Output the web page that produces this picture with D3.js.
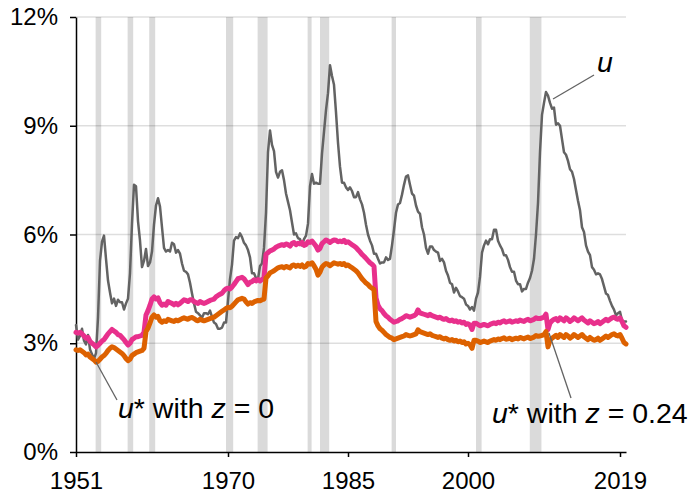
<!DOCTYPE html>
<html>
<head>
<meta charset="utf-8">
<script src="https://cdn.jsdelivr.net/npm/d3@7"></script>
<style>
  html, body { margin: 0; padding: 0; background: #fff; }
  svg { display: block; font-family: "Liberation Sans", Arial, Helvetica, sans-serif; }
</style>
</head>
<body>
<svg id="chart" width="694" height="493"></svg>
<script>
// Quarterly series, 1951Q1 - 2019Q4 (one row per year, four quarters each)
const startYear = 1951;

// Unemployment rate u (%)
const uRate = [
  3.50,3.10,3.20,3.40, 3.07,2.97,3.23,2.83, 2.70,2.57,2.73,3.70, 5.27,5.80,5.97,5.33,
  4.73,4.40,4.10,4.23, 4.03,4.20,4.13,4.13, 3.93,4.10,4.23,4.93, 6.30,7.37,7.33,6.37,
  5.83,5.10,5.27,5.60, 5.13,5.23,5.53,6.27, 6.80,7.00,6.77,6.20, 5.63,5.53,5.57,5.53,
  5.77,5.73,5.50,5.57, 5.47,5.20,5.00,4.97, 4.90,4.67,4.37,4.10, 3.87,3.83,3.77,3.70,
  3.83,3.83,3.80,3.90, 3.73,3.57,3.53,3.40, 3.40,3.43,3.57,3.57, 4.17,4.77,5.17,5.83,
  5.93,5.90,6.03,5.93, 5.77,5.70,5.57,5.37, 4.93,4.93,4.80,4.77, 5.13,5.20,5.63,6.60,
  8.27,8.87,8.47,8.30, 7.73,7.57,7.73,7.77, 7.50,7.13,6.90,6.67, 6.33,6.00,6.03,5.90,
  5.87,5.70,5.87,5.97, 6.30,7.33,7.67,7.40, 7.43,7.40,7.40,8.23, 8.83,9.43,9.90,10.67,
  10.37,10.13,9.37,8.53, 7.87,7.43,7.43,7.30, 7.23,7.30,7.20,7.03, 7.03,7.17,6.97,6.83,
  6.60,6.27,6.00,5.83, 5.70,5.47,5.47,5.33, 5.20,5.23,5.23,5.37, 5.30,5.33,5.70,6.13,
  6.60,6.83,6.87,7.10, 7.37,7.60,7.63,7.37, 7.13,7.07,6.80,6.63, 6.57,6.20,6.00,5.63,
  5.47,5.67,5.67,5.57, 5.53,5.50,5.27,5.33, 5.23,5.00,4.87,4.67, 4.63,4.40,4.53,4.43,
  4.30,4.27,4.23,4.07, 4.03,3.93,4.00,3.90, 4.23,4.40,4.83,5.50, 5.70,5.83,5.73,5.87,
  5.87,6.13,6.13,5.83, 5.70,5.60,5.43,5.43, 5.30,5.10,4.97,4.97, 4.73,4.63,4.63,4.43,
  4.50,4.50,4.67,4.80, 5.00,5.33,6.00,6.87, 8.27,9.30,9.63,9.93, 9.83,9.63,9.47,9.50,
  9.03,9.07,9.00,8.63, 8.27,8.20,8.03,7.80, 7.73,7.53,7.23,6.93, 6.67,6.20,6.07,5.70,
  5.53,5.43,5.10,5.03, 4.90,4.93,4.90,4.77, 4.57,4.37,4.33,4.17, 4.03,3.93,3.77,3.83,
  3.87,3.63,3.60,3.60
];

// u* with z = 0 (%)
const uStarZ0 = [
  3.30,3.28,3.30,3.26, 3.20,3.14,3.16,3.05, 3.00,2.96,2.90,2.94, 3.00,3.06,3.10,3.18,
  3.26,3.32,3.38,3.34, 3.30,3.24,3.22,3.16, 3.10,3.02,2.95,3.00, 3.10,3.14,3.18,3.18,
  3.20,3.22,3.30,3.78, 3.90,4.05,4.22,4.28, 4.22,4.25,4.12,4.05, 4.08,4.05,4.15,4.12,
  4.10,4.06,4.10,4.06, 4.10,4.15,4.20,4.18, 4.15,4.20,4.20,4.15, 4.12,4.10,4.15,4.12,
  4.10,4.12,4.15,4.18, 4.20,4.22,4.28,4.32, 4.35,4.38,4.45,4.50, 4.52,4.50,4.55,4.62,
  4.70,4.78,4.80,4.82, 4.78,4.70,4.62,4.68, 4.70,4.75,4.72,4.76, 4.72,4.76,4.80,5.45,
  5.50,5.55,5.57,5.60, 5.65,5.68,5.70,5.72, 5.70,5.74,5.72,5.68, 5.75,5.78,5.72,5.76,
  5.74,5.78,5.70,5.72, 5.80,5.78,5.82,5.75, 5.68,5.57,5.62,5.75, 5.80,5.85,5.82,5.78,
  5.82,5.85,5.84,5.80, 5.82,5.80,5.84,5.78, 5.80,5.76,5.72,5.68, 5.64,5.58,5.52,5.45,
  5.40,5.34,5.28,5.22, 5.18,5.12,4.25,4.05, 3.95,3.90,3.82,3.76, 3.72,3.66,3.62,3.58,
  3.60,3.62,3.66,3.68, 3.72,3.76,3.74,3.72, 3.74,3.76,3.80,3.92, 3.84,3.82,3.80,3.78,
  3.76,3.80,3.76,3.74, 3.72,3.70,3.72,3.68, 3.66,3.68,3.64,3.62, 3.64,3.60,3.62,3.58,
  3.60,3.56,3.58,3.52, 3.54,3.50,3.38,3.55, 3.55,3.52,3.48,3.50, 3.52,3.50,3.48,3.52,
  3.54,3.56,3.54,3.58, 3.56,3.60,3.62,3.58, 3.60,3.62,3.58,3.60, 3.62,3.60,3.64,3.62,
  3.60,3.64,3.66,3.62, 3.64,3.66,3.70,3.68, 3.68,3.70,3.72,3.80, 3.38,3.56,3.62,3.66,
  3.68,3.62,3.70,3.66, 3.62,3.70,3.66,3.60, 3.64,3.70,3.66,3.62, 3.66,3.70,3.64,3.60,
  3.56,3.62,3.58,3.54, 3.56,3.60,3.54,3.58, 3.62,3.66,3.62,3.66, 3.70,3.72,3.68,3.66,
  3.70,3.60,3.48,3.44
];

// u* with z = 0.24 (%)
const uStarZ24 = [
  2.82,2.80,2.82,2.78, 2.74,2.68,2.70,2.62, 2.58,2.54,2.48,2.50, 2.56,2.62,2.66,2.72,
  2.80,2.86,2.90,2.88, 2.84,2.80,2.76,2.72, 2.66,2.58,2.52,2.56, 2.66,2.70,2.74,2.76,
  2.78,2.80,2.86,3.32, 3.42,3.56,3.72,3.78, 3.72,3.74,3.62,3.58, 3.62,3.60,3.66,3.64,
  3.62,3.60,3.64,3.62, 3.65,3.68,3.70,3.68, 3.66,3.70,3.71,3.68, 3.64,3.62,3.66,3.64,
  3.62,3.64,3.66,3.68, 3.70,3.72,3.76,3.80, 3.84,3.88,3.92,3.96, 3.99,3.98,4.02,4.08,
  4.14,4.20,4.22,4.24, 4.22,4.14,4.08,4.12, 4.10,4.14,4.16,4.18, 4.17,4.20,4.22,4.80,
  4.86,4.94,4.97,5.00, 5.04,5.08,5.10,5.11, 5.08,5.12,5.10,5.08, 5.14,5.16,5.12,5.15,
  5.12,5.16,5.10,5.12, 5.20,5.18,5.22,5.14, 5.04,4.88,4.96,5.10, 5.16,5.20,5.18,5.14,
  5.18,5.22,5.20,5.18, 5.20,5.17,5.20,5.14, 5.16,5.12,5.08,5.04, 5.00,4.94,4.86,4.78,
  4.72,4.66,4.62,4.56, 4.52,4.48,3.60,3.48, 3.40,3.36,3.30,3.24, 3.20,3.16,3.14,3.10,
  3.12,3.14,3.16,3.18, 3.20,3.24,3.22,3.20, 3.22,3.24,3.26,3.37, 3.32,3.30,3.28,3.26,
  3.24,3.26,3.22,3.20, 3.18,3.16,3.18,3.14, 3.12,3.14,3.10,3.08, 3.10,3.06,3.08,3.04,
  3.06,3.02,3.04,2.98, 3.00,2.96,2.86,3.08, 3.08,3.06,3.02,3.04, 3.06,3.04,3.02,3.06,
  3.08,3.10,3.08,3.12, 3.10,3.13,3.15,3.11, 3.12,3.14,3.10,3.12, 3.14,3.12,3.16,3.14,
  3.12,3.15,3.17,3.13, 3.15,3.17,3.21,3.19, 3.20,3.22,3.24,3.32, 2.90,3.08,3.14,3.18,
  3.22,3.16,3.24,3.20, 3.16,3.24,3.20,3.14, 3.18,3.24,3.20,3.16, 3.20,3.24,3.18,3.14,
  3.10,3.16,3.12,3.08, 3.10,3.14,3.08,3.12, 3.16,3.20,3.16,3.20, 3.24,3.26,3.22,3.20,
  3.24,3.14,3.02,2.98
];

// Recession periods (start, end) in decimal years
const recessions = [
  [1953.45, 1954.15], [1957.45, 1958.15], [1960.15, 1960.9], [1969.75, 1970.65],
  [1973.7, 1974.95], [1979.95, 1980.45], [1981.5, 1982.65], [1990.45, 1991.0],
  [2001.0, 2001.7], [2007.72, 2009.18]
];

const xTicks = [1951, 1970, 1985, 2000, 2019];
const yTicks = [0, 3, 6, 9, 12];

const svg = d3.select("#chart");
const plotLeft = 76, plotRight = 626, plotTop = 17, plotBottom = 452;

const x = d3.scaleLinear().domain([1951, 2019.75]).range([plotLeft, plotRight]);
const y = d3.scaleLinear().domain([0, 12]).range([plotBottom, plotTop]);

const toPoints = arr => arr.map((v, i) => ({ t: startYear + i / 4, v }));

// Recession shading
svg.append("g").selectAll("rect").data(recessions).join("rect")
  .attr("x", d => x(d[0]))
  .attr("width", d => x(d[1]) - x(d[0]))
  .attr("y", y(12))
  .attr("height", y(0) - y(12))
  .attr("fill", "#000")
  .attr("fill-opacity", 0.145);

// Horizontal gridlines
svg.append("g").selectAll("line").data(yTicks.filter(d => d > 0)).join("line")
  .attr("x1", plotLeft).attr("x2", plotRight)
  .attr("y1", d => y(d)).attr("y2", d => y(d))
  .attr("stroke", "#000").attr("stroke-opacity", 0.13).attr("stroke-width", 1.5);

// Axes
const xAxis = svg.append("g")
  .attr("transform", `translate(0,${plotBottom})`)
  .call(d3.axisBottom(x).tickValues(xTicks).tickFormat(d3.format("d"))
    .tickSize(5).tickSizeOuter(0).tickPadding(15));
const yAxis = svg.append("g")
  .attr("transform", `translate(${plotLeft},0)`)
  .call(d3.axisLeft(y).tickValues(yTicks).tickFormat(d => d + "%")
    .tickSize(6).tickSizeOuter(0).tickPadding(12));
[xAxis, yAxis].forEach(g => {
  g.selectAll("path, line").attr("stroke", "#000").attr("stroke-width", 1.5);
  g.selectAll("text").attr("fill", "#000").style("font-size", "24px")
    .style("font-family", "'Liberation Sans', Arial, Helvetica, sans-serif");
});

// Series lines
const line = d3.line().x(d => x(d.t)).y(d => y(d.v));
const series = [
  { data: uRate, color: "#636363", width: 2.5 },
  { data: uStarZ0, color: "#e8308c", width: 5 },
  { data: uStarZ24, color: "#dd6100", width: 5 }
];
svg.append("g").selectAll("path").data(series).join("path")
  .attr("d", d => line(toPoints(d.data)))
  .attr("fill", "none")
  .attr("stroke", d => d.color)
  .attr("stroke-width", d => d.width)
  .attr("stroke-linejoin", "round")
  .attr("stroke-linecap", "round");

// Leader lines for the annotations
const leaders = [
  [[553, 99], [594, 75]],
  [[96, 362], [117, 400]],
  [[549, 333], [571, 398]]
];
svg.append("g").selectAll("line").data(leaders).join("line")
  .attr("x1", d => d[0][0]).attr("y1", d => d[0][1])
  .attr("x2", d => d[1][0]).attr("y2", d => d[1][1])
  .attr("stroke", "#636363").attr("stroke-width", 1.3);

// Annotation labels
const ann = svg.append("g").style("font-size", "28.5px").attr("fill", "#000");
ann.append("text").attr("x", 597).attr("y", 72)
  .append("tspan").style("font-style", "italic").text("u");

function starLabel(xPos, yPos, zText) {
  const t = ann.append("text").attr("x", xPos).attr("y", yPos);
  t.append("tspan").style("font-style", "italic").text("u");
  t.append("tspan").text("* with ");
  t.append("tspan").style("font-style", "italic").text("z");
  t.append("tspan").text(" = " + zText);
}
starLabel(118, 418, "0");
starLabel(492, 423, "0.24");
</script>
</body>
</html>
